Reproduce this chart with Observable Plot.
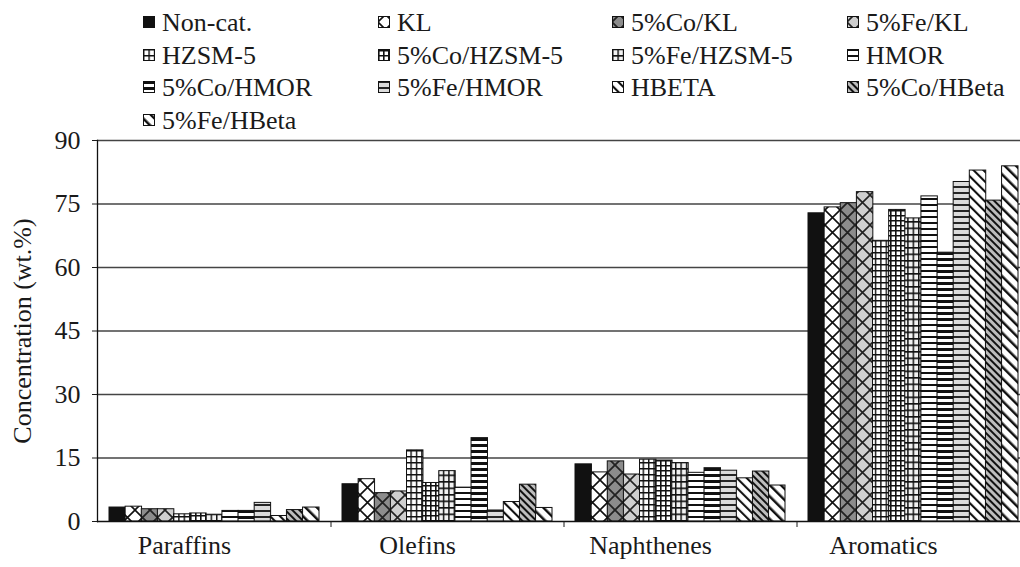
<!DOCTYPE html>
<html><head><meta charset="utf-8">
<script src="https://cdn.jsdelivr.net/npm/d3@7"></script>
<script src="https://cdn.jsdelivr.net/npm/@observablehq/plot@0.6"></script>
<style>
html,body{margin:0;padding:0;background:#fff;}
body{width:1020px;height:567px;overflow:hidden;position:relative;}
#chart{position:absolute;left:0;top:0;}
</style></head>
<body>
<svg width="0" height="0" style="position:absolute;left:0;top:0">
<defs>
  <pattern id="pKL" patternUnits="userSpaceOnUse" width="15" height="15">
    <rect width="15" height="15" fill="#fff"/>
    <path d="M-1,-1L16,16M16,-1L-1,16" stroke="#111" stroke-width="1.6"/>
  </pattern>
  <pattern id="pCoKL" patternUnits="userSpaceOnUse" width="15" height="15">
    <rect width="15" height="15" fill="#8c8c8c"/>
    <path d="M-1,-1L16,16M16,-1L-1,16" stroke="#222" stroke-width="1.8"/>
  </pattern>
  <pattern id="pFeKL" patternUnits="userSpaceOnUse" width="15" height="15">
    <rect width="15" height="15" fill="#cfcfcf"/>
    <path d="M-1,-1L16,16M16,-1L-1,16" stroke="#222" stroke-width="1.6"/>
  </pattern>
  <pattern id="pHZ" patternUnits="userSpaceOnUse" width="5.4" height="6">
    <rect width="5.4" height="6" fill="#fff"/>
    <path d="M0.7,0V6M0,0.7H5.4" stroke="#111" stroke-width="1.4"/>
  </pattern>
  <pattern id="pCoHZ" patternUnits="userSpaceOnUse" width="5" height="5">
    <rect width="5" height="5" fill="#fff"/>
    <path d="M0.8,0V5M0,0.8H5" stroke="#111" stroke-width="1.6"/>
  </pattern>
  <pattern id="pFeHZ" patternUnits="userSpaceOnUse" width="5.4" height="6.5">
    <rect width="5.4" height="6.5" fill="#f2f2f2"/>
    <path d="M0.7,0V6.5M0,0.8H5.4" stroke="#111" stroke-width="1.5"/>
  </pattern>
  <pattern id="pHM" patternUnits="userSpaceOnUse" width="6" height="6">
    <rect width="6" height="6" fill="#fff"/>
    <path d="M0,1H6" stroke="#111" stroke-width="2"/>
  </pattern>
  <pattern id="pCoHM" patternUnits="userSpaceOnUse" width="6" height="6">
    <rect width="6" height="6" fill="#fff"/>
    <path d="M0,1.5H6" stroke="#111" stroke-width="3"/>
  </pattern>
  <pattern id="pFeHM" patternUnits="userSpaceOnUse" width="6" height="6">
    <rect width="6" height="6" fill="#dcdcdc"/>
    <path d="M0,1H6" stroke="#111" stroke-width="1.8"/>
  </pattern>
  <pattern id="pHB" patternUnits="userSpaceOnUse" width="7" height="7" patternTransform="rotate(-45)">
    <rect width="7" height="7" fill="#fff"/>
    <path d="M1,0V7" stroke="#111" stroke-width="2.2"/>
  </pattern>
  <pattern id="pCoHB" patternUnits="userSpaceOnUse" width="5" height="5" patternTransform="rotate(-45)">
    <rect width="5" height="5" fill="#bdbdbd"/>
    <path d="M1,0V5" stroke="#111" stroke-width="2"/>
  </pattern>
  <pattern id="pFeHB" patternUnits="userSpaceOnUse" width="8" height="8" patternTransform="rotate(-45)">
    <rect width="8" height="8" fill="#fff"/>
    <path d="M1.2,0V8" stroke="#111" stroke-width="2.6"/>
  </pattern>
</defs>
</svg>
<div id="chart"></div>
<script>
// ---- data ----
const categories = ["Paraffins", "Olefins", "Naphthenes", "Aromatics"];
const series = ["Non-cat.", "KL", "5%Co/KL", "5%Fe/KL", "HZSM-5", "5%Co/HZSM-5", "5%Fe/HZSM-5",
                "HMOR", "5%Co/HMOR", "5%Fe/HMOR", "HBETA", "5%Co/HBeta", "5%Fe/HBeta"];
const paraffins  = [3.3, 3.5, 2.9, 2.9, 1.7, 1.9, 1.6, 2.5, 2.5, 4.4, 1.3, 2.7, 3.3];
const olefins    = [8.8, 10.0, 6.7, 7.1, 16.8, 9.1, 11.9, 8.0, 19.7, 2.6, 4.6, 8.7, 3.2];
const naphthenes = [13.5, 11.6, 14.2, 11.1, 14.6, 14.4, 13.8, 11.5, 12.6, 12.0, 10.2, 11.8, 8.5];
const aromatics  = [72.8, 74.2, 75.2, 77.8, 66.3, 73.6, 71.6, 76.8, 63.5, 80.2, 82.9, 75.8, 83.9];
const yTicks = [0, 15, 30, 45, 60, 75, 90];
const yLabel = "Concentration (wt.%)";

// ---- styles ----
const fills = ["#111", "url(#pKL)", "url(#pCoKL)", "url(#pFeKL)", "url(#pHZ)", "url(#pCoHZ)", "url(#pFeHZ)",
               "url(#pHM)", "url(#pCoHM)", "url(#pFeHM)", "url(#pHB)", "url(#pCoHB)", "url(#pFeHB)"];
const FONT = "Liberation Serif, Times New Roman, serif";

const W = 1020, H = 567, mL = 97, mR = -9, mT = 140, mB = 46;
const padIn = 0.1, padOut = 0.05;
const step = (W - mL - mR) / (categories.length - padIn + 2 * padOut);
const bw = step * (1 - padIn);
const w = bw / series.length;
const byCat = [paraffins, olefins, naphthenes, aromatics];

const barMarks = series.map((s, i) =>
  Plot.barY(categories.map((c, j) => ({category: c, value: byCat[j][i], series: s})), {
    x: "category", y: "value", fill: fills[i], stroke: "#111", strokeWidth: 1,
    insetLeft: i * w, insetRight: (series.length - 1 - i) * w
  })
);

const chart = Plot.plot({
  width: W, height: H,
  marginLeft: mL, marginRight: mR, marginTop: mT, marginBottom: mB,
  style: {fontFamily: FONT, fontSize: "26px", color: "#1a1a1a", background: "transparent"},
  x: {domain: categories, paddingInner: padIn, paddingOuter: padOut, align: 0.5, label: null},
  y: {domain: [0, 90], label: null},
  marks: [
    Plot.gridY(yTicks.slice(1), {stroke: "#444", strokeOpacity: 1, strokeWidth: 1.3}),
    ...barMarks,
    Plot.ruleY([0], {stroke: "#111", strokeWidth: 1.3}),
    Plot.frame({anchor: "left", stroke: "#111", strokeWidth: 1.3}),
    Plot.axisY(yTicks, {tickSize: 5, tickPadding: 12, fontSize: 26, label: yLabel, labelAnchor: "center", labelArrow: "none", labelOffset: 85}),
    Plot.axisX({tickSize: 0, tickPadding: 14, fontSize: 26, dx: -30, label: null}),
    Plot.axisX({tickSize: 6, text: null, dx: step / 2, label: null})
  ]
});
document.getElementById("chart").appendChild(chart);

// ---- legend, added to the same SVG so it inherits the same font ----
const colX = [143, 378, 612, 847];
const rowY = [22, 55, 87, 120];
const lg = d3.select(chart).append("g").attr("class", "legend")
  .attr("text-anchor", "start").attr("font-size", 26);
const items = lg.selectAll("g").data(series).join("g")
  .attr("transform", (d, i) => `translate(${colX[i % 4]},${rowY[Math.floor(i / 4)]})`);
items.append("rect").attr("x", 0.5).attr("y", -5.5).attr("width", 11).attr("height", 11)
  .attr("fill", (d, i) => fills[i]).attr("stroke", "#111").attr("stroke-width", 1);
items.append("text").attr("x", 19).attr("y", 0).attr("dy", "0.35em")
  .attr("text-anchor", "start").attr("fill", "#1a1a1a")
  .text(d => d);
</script>
</body></html>
